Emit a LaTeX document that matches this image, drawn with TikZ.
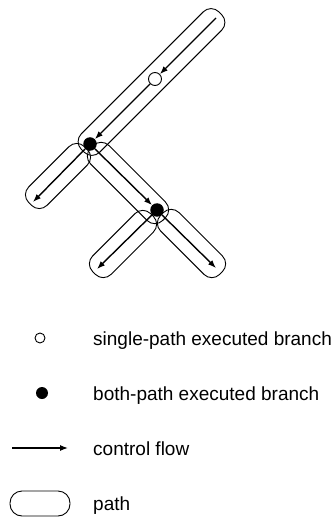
\documentclass[tikz,border=0pt]{standalone}
\usepackage{fontspec}
\setmainfont{Liberation Sans}
\usetikzlibrary{arrows.meta}
\begin{document}
\begin{tikzpicture}[x=1pt,y=-1pt,
  capsule/.style={draw,line width=0.9pt,rounded corners=11pt,minimum height=26pt,inner sep=0pt},
  flow/.style={line width=1.4pt,-{Latex[length=8pt,width=6pt]}},
  whitedot/.style={circle,draw,line width=0.9pt,fill=white,minimum size=13pt,inner sep=0pt},
  blackdot/.style={circle,fill=black,minimum size=13.5pt,inner sep=0pt},
  legtext/.style={anchor=base west,font=\fontsize{19}{22}\selectfont,inner sep=0pt}]
\useasboundingbox (0,0) rectangle (331,518);
% capsules (paths)
\node[capsule,rotate=45,minimum width=194.5pt] (p1) at (151.5,82) {};
\node[capsule,rotate=45,minimum width=79pt] (p2) at (58,176) {};
\node[capsule,rotate=-45,minimum width=102pt] (p3) at (128,183) {};
\node[capsule,rotate=45,minimum width=82pt] (p4) at (123,244) {};
\node[capsule,rotate=-45,minimum width=83.5pt] (p5) at (191.5,243.5) {};
% branches
\node[whitedot] (w1) at (155,79) {};
\node[blackdot] (b1) at (90,144) {};
\node[blackdot] (b2) at (157,210) {};
\coordinate (s0) at (216,18);
\coordinate (e2) at (33,202);
\coordinate (e4) at (97,269);
\coordinate (e5) at (216,268);
% control flow
\draw[flow] (s0) -- (w1);
\draw[flow] (w1) -- (b1);
\draw[flow] (b1) -- (e2);
\draw[flow] (b1) -- (b2);
\draw[flow] (b2) -- (e4);
\draw[flow] (b2) -- (e5);
% legend
\node[whitedot,minimum size=10pt] (lw) at (40,338) {};
\node[legtext] (tw) at (93,345) {single-path executed branch};
\node[blackdot,minimum size=12pt] (lb) at (42,393) {};
\node[legtext] (tb) at (93,400) {both-path executed branch};
\coordinate (la0) at (12,448);
\coordinate (la1) at (68,448);
\draw[flow,line width=1.2pt] (la0) -- (la1);
\node[legtext] (tf) at (93,455) {control flow};
\node[draw,line width=0.9pt,rounded corners=12pt,minimum width=60pt,minimum height=25pt,inner sep=0pt] (lp) at (40,503.5) {};
\node[legtext] (tp) at (93,510) {path};
\end{tikzpicture}
\end{document}
